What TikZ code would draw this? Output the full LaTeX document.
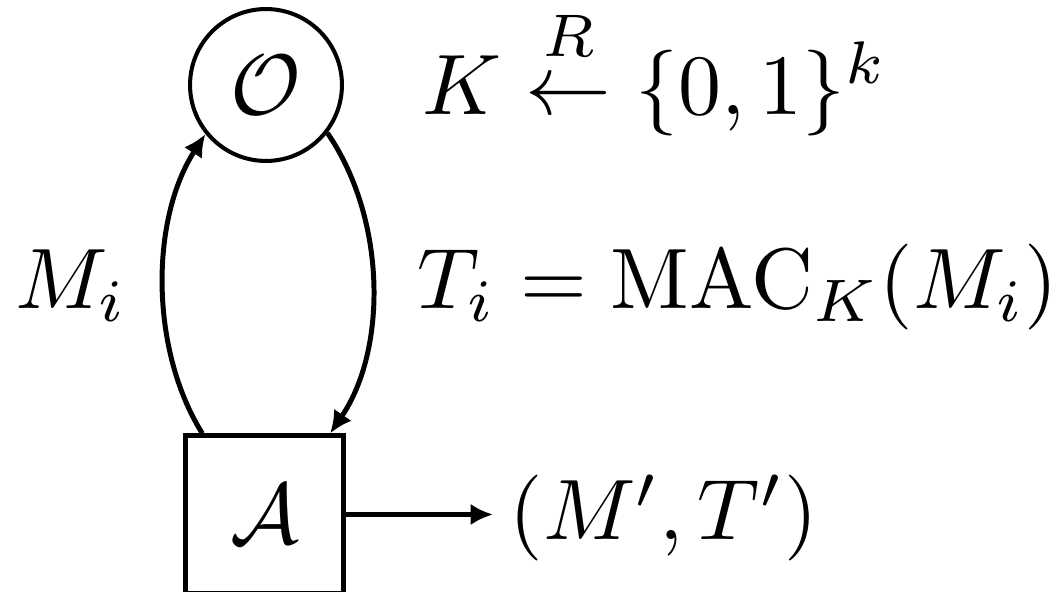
\documentclass[tikz,border=0pt]{standalone}
\usepackage{amsmath}
\usetikzlibrary{arrows.meta,calc}
\begin{document}
\begin{tikzpicture}[x=0.1165pt,y=-0.1165pt,
  oracle/.style={draw,circle,line width=0.47pt,minimum size=17.7pt,inner sep=0pt},
  adv/.style={draw,rectangle,line width=0.58pt,minimum size=18.3pt,inner sep=0pt},
  conn/.style={line width=0.58pt,-{Latex[length=2.6pt,width=2.5pt]}},
  lbl/.style={inner sep=0pt,anchor=base west}]
\useasboundingbox (0,0) rectangle (1050,592);
\node[oracle] (O) at (266,85) {$\mathcal{O}$};
\node[adv] (A) at (264.5,514.5) {$\mathcal{A}$};
\coordinate (out) at (493,514.5);
\draw[conn] ([xshift=2.2pt]A.north west) .. controls (150,350) and (150,220) .. (O.-141);
\draw[conn] (O.-38) .. controls (387,220) and (387,350) .. ([xshift=-1.8pt]A.north east);
\draw[conn] (A.east) -- (out);
\node[lbl] (k) at (421,115) {$K \stackrel{\raisebox{1.2pt}{$\scriptstyle R$}}{\leftarrow} \{0,1\}^k$};
\node[lbl] (m) at (14,309) {$M_i$};
\node[lbl] (t) at (416,309) {$T_i = \mathrm{MAC}_K(M_i)$};
\node[lbl] (o) at (508,540) {$(M',T')$};
\end{tikzpicture}
\end{document}
